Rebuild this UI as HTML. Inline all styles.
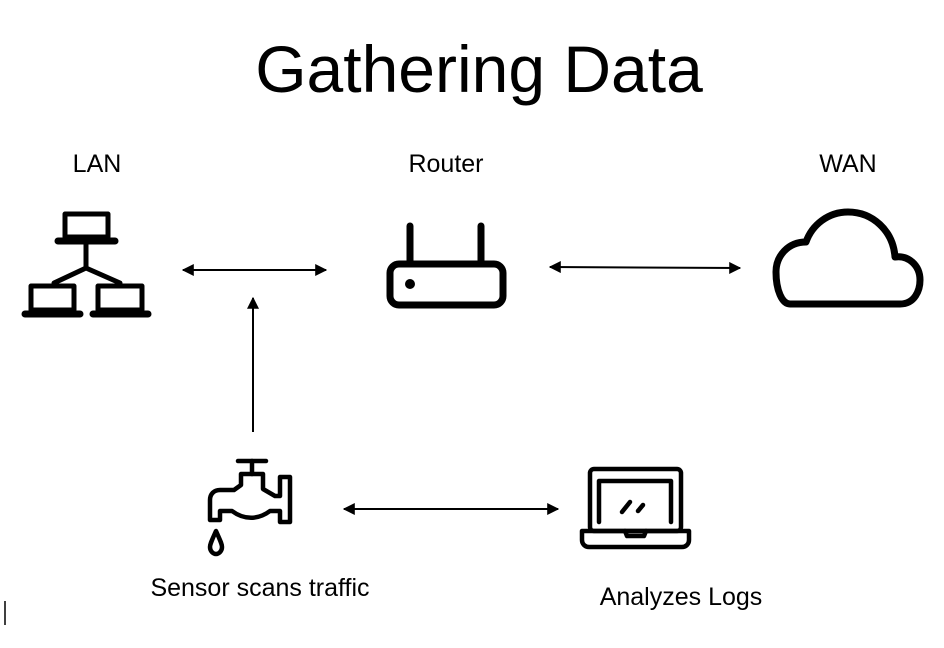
<!DOCTYPE html>
<html><head><style>html,body{margin:0;padding:0;background:#fff;}svg{display:block}</style></head>
<body>
<svg width="944" height="648" viewBox="0 0 944 648" xmlns="http://www.w3.org/2000/svg" font-family="Liberation Sans, Arial, sans-serif">
<defs>
<marker id="a" viewBox="0 0 10 10" refX="9" refY="5" markerWidth="6" markerHeight="6" orient="auto-start-reverse"><path d="M0,0 L10,5 L0,10 z" fill="#000"/></marker>
</defs>
<text x="479" y="92" font-size="66" text-anchor="middle" fill="#000">Gathering Data</text>
<text x="97" y="172" font-size="25" text-anchor="middle">LAN</text>
<text x="446" y="172" font-size="25" text-anchor="middle">Router</text>
<text x="848" y="172" font-size="25" text-anchor="middle">WAN</text>
<text x="260" y="596" font-size="25" text-anchor="middle">Sensor scans traffic</text>
<text x="681" y="605" font-size="25" text-anchor="middle">Analyzes Logs</text>
<!-- LAN icon -->
<g fill="none" stroke="#000" stroke-width="5" stroke-linejoin="round" stroke-linecap="round">
<rect x="65" y="214" width="43" height="23"/>
<line x1="58" y1="241" x2="115" y2="241" stroke-width="7"/>
<line x1="86" y1="244" x2="86" y2="268"/>
<path d="M54,283 L86,268 L120,283"/>
<rect x="31" y="286" width="43" height="24"/>
<rect x="98" y="286" width="44" height="24"/>
<line x1="25" y1="314" x2="80" y2="314" stroke-width="7"/>
<line x1="93" y1="314" x2="148" y2="314" stroke-width="7"/>
</g>
<!-- Router -->
<g fill="none" stroke="#000" stroke-width="7" stroke-linecap="round">
<line x1="410" y1="226" x2="410" y2="262"/>
<line x1="481" y1="226" x2="481" y2="262"/>
<rect x="390" y="264" width="113" height="41" rx="9"/>
</g>
<circle cx="410" cy="284" r="5" fill="#000"/>
<!-- Cloud -->
<path d="M790,304 L900,304 C915,304 920,290 920,280 C920,265 908,255 895,257 C893,230 872,212 848,212 C828,212 812,225 806,242 C788,242 776,256 776,272 C776,290 782,304 790,304 Z" fill="none" stroke="#000" stroke-width="7" stroke-linejoin="round"/>
<!-- Tap -->
<g fill="none" stroke="#000" stroke-width="4.5" stroke-linejoin="round" stroke-linecap="round">
<line x1="238" y1="461" x2="266" y2="461"/>
<line x1="252" y1="461" x2="252" y2="474"/>
<path d="M241,480 L241,474 L263,474 L263,489 L275,496 L280,496 L280,477 L290,477 L290,522 L280,522 L280,511 L270,511 C258,520 244,520 232,511 L220,511 L220,520 L210,520 L210,500 C210,494 214,490 220,490 L234,490 L241,485 Z"/>
<path d="M216,531 C212,540 210,544 210,547 C210,551 213,554 216,554 C219,554 222,551 222,547 C222,544 220,540 216,531 Z"/>
</g>
<!-- Laptop -->
<g fill="none" stroke="#000" stroke-width="4.5" stroke-linecap="round" stroke-linejoin="round">
<rect x="590" y="469" width="91" height="62" rx="4"/>
<path d="M599,522 L599,481 L671,481 L671,522"/>
<path d="M582,531 L689,531 L689,540 C689,544 686,547 682,547 L589,547 C585,547 582,544 582,540 Z"/>
<path d="M625,531 L627,536 L644,536 L646,531"/>
<line x1="622" y1="512" x2="630" y2="502"/>
<line x1="638" y1="511" x2="643" y2="505"/>
</g>
<!-- arrows -->
<g stroke="#000" stroke-width="2" marker-start="url(#a)" marker-end="url(#a)">
<line x1="183" y1="270" x2="326" y2="270"/>
<line x1="550" y1="267" x2="740" y2="268"/>
<line x1="344" y1="509" x2="558" y2="509"/>
</g>
<line x1="253" y1="432" x2="253" y2="298" stroke="#000" stroke-width="2" marker-end="url(#a)"/>
<line x1="5" y1="601" x2="5" y2="625" stroke="#000" stroke-width="1.5"/>
</svg>
</body></html>
